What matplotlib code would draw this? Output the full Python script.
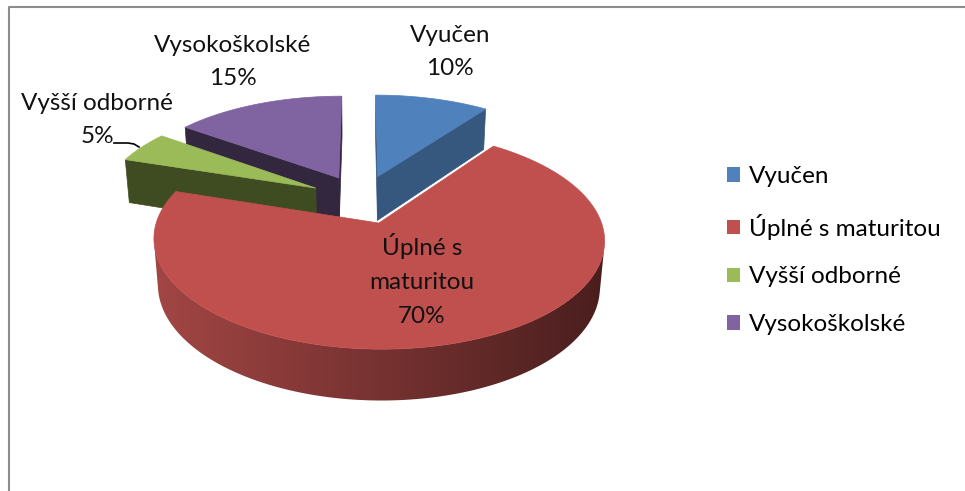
import numpy as np
import matplotlib.pyplot as plt
from matplotlib.colors import to_rgb
from matplotlib.patches import Polygon, Patch

plt.rcParams["font.family"] = ["Lato", "DejaVu Sans"]

# data
categories = ["Vyučen", "Úplné s maturitou", "Vyšší odborné", "Vysokoškolské"]
shares = [10, 70, 5, 15]
label_lines = ["Vyučen\n10%", "Úplné s\nmaturitou\n70%", "Vyšší odborné\n5%", "Vysokoškolské\n15%"]

top_colors = ["#4F81BD", "#C0504D", "#9BBB59", "#8064A2"]
face_colors = ["#36587F", "#A24644", "#3F4C22", "#33263F"]
wall_dark = ["#22384F", "#4A1E1E", "#2A3316", "#22192B"]

# 3D view (pixels)
Ox, Oy = 362, 199
K = 215
phi = np.radians(27.6)
D = 6.0
thick = 0.24
explode = 0.245

cam = np.array([0.0, -D * np.cos(phi), D * np.sin(phi)])


def proj(x, y, z):
    depth = D + y * np.cos(phi) - z * np.sin(phi)
    f = D / depth
    return Ox + K * x * f, Oy - K * (y * np.sin(phi) + z * np.cos(phi)) * f


def facing(normal, point):
    return np.dot(normal, cam - point) > 0


fig = plt.figure(figsize=(9.65, 4.91), dpi=100)
ax = fig.add_axes([0, 0, 1, 1])
ax.set_xlim(0, 965)
ax.set_ylim(491, 0)
ax.axis("off")

# chart frame
ax.plot([9, 9, 965], [491, 7, 7], color="#8C8C8C", lw=1.5)

total = sum(shares)
bounds = np.concatenate([[0], np.cumsum(shares)]) / total * 360
slices = []
for i in range(len(shares)):
    t1, t2 = bounds[i], bounds[i + 1]
    mid = np.radians((t1 + t2) / 2)
    off = explode * np.array([np.sin(mid), np.cos(mid), 0.0])
    slices.append((np.cos(mid), i, t1, t2, off))

# far slices first
slices.sort(key=lambda s: -s[0])

for _, i, t1, t2, off in slices:
    ox, oy, _ = off
    # radial cut faces
    for ang, sign in [(t1, -1), (t2, 1)]:
        a = np.radians(ang)
        n = np.array([np.sin(a + sign * np.pi / 2), np.cos(a + sign * np.pi / 2), 0])
        p = off + 0.5 * np.array([np.sin(a), np.cos(a), -thick])
        if facing(n, p):
            pts = [proj(ox, oy, 0), proj(ox + np.sin(a), oy + np.cos(a), 0),
                   proj(ox + np.sin(a), oy + np.cos(a), -thick), proj(ox, oy, -thick)]
            ax.add_patch(Polygon(pts, closed=True, fc=face_colors[i], ec=face_colors[i], lw=0.5))
    # outer wall, shaded left to right
    angs = np.radians(np.linspace(t1, t2, int((t2 - t1) * 2) + 2))
    vis = [a for a in angs if facing(np.array([np.sin(a), np.cos(a), 0]),
                                     off + np.array([np.sin(a), np.cos(a), 0]))]
    if len(vis) > 1:
        top = [proj(ox + np.sin(a), oy + np.cos(a), 0) for a in vis]
        bot = [proj(ox + np.sin(a), oy + np.cos(a), -thick) for a in vis]
        wall = Polygon(top + bot[::-1], closed=True, fc="none", ec="none")
        ax.add_patch(wall)
        xs = [p[0] for p in top + bot]
        ys = [p[1] for p in top + bot]
        c1, c2 = np.array(to_rgb(face_colors[i])), np.array(to_rgb(wall_dark[i]))
        s = np.linspace(0, 1, 256)[None, :, None]
        grad = c1 + (c2 - c1) * s
        im = ax.imshow(grad, extent=(min(xs), max(xs), max(ys), min(ys)), aspect="auto",
                       interpolation="bilinear", zorder=wall.get_zorder())
        im.set_clip_path(wall)
        ax.set_xlim(0, 965)
        ax.set_ylim(491, 0)
    # top face
    arc = np.radians(np.linspace(t1, t2, 200))
    pts = [proj(ox, oy, 0)] + [proj(ox + np.sin(a), oy + np.cos(a), 0) for a in arc]
    ax.add_patch(Polygon(pts, closed=True, fc=top_colors[i], ec=top_colors[i], lw=0.5, zorder=1.01))

# data labels
label_pos = [(450, 52), (422, 280), (97, 120), (233, 62)]
for txt, (lx, ly) in zip(label_lines, label_pos):
    ax.text(lx, ly, txt, ha="center", va="center", fontsize=17.5, linespacing=1.75, color="#111111",
            zorder=5)

# leader line for the small slice
ax.plot([114, 128, 134, 139], [143, 143, 144, 147], color="black", lw=1.2, zorder=5)

handles = [Patch(facecolor=c, edgecolor="none") for c in top_colors]
fig.legend(handles, categories, loc="upper left", bbox_to_anchor=(727 / 965, 1 - 166 / 491),
           frameon=False, fontsize=17.5, handlelength=0.55, handleheight=0.55,
           handletextpad=0.35, labelspacing=1.1, borderpad=0, borderaxespad=0)

fig.savefig("out.png", dpi=100)
